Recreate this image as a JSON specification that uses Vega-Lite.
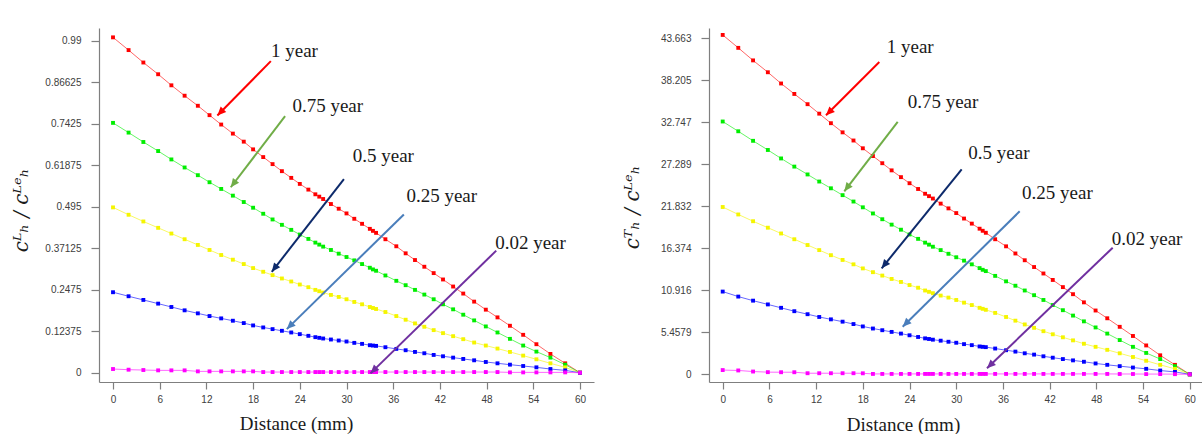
{
  "$schema": "https://vega.github.io/schema/vega-lite/v6.json",
  "background": "white",
  "padding": {"left": 11, "top": 28, "right": 0, "bottom": 0},
  "bounds": "flush",
  "spacing": 115,
  "config": {
    "view": {"stroke": null},
    "axis": {"grid": false, "domainColor": "#7f7f7f", "domainWidth": 1.2, "tickColor": "#7f7f7f", "tickWidth": 1.2, "tickSize": 7, "labelFont": "Liberation Sans", "labelFontSize": 10, "labelColor": "#404040", "titleFont": "Liberation Serif", "titleFontSize": 19, "titleColor": "#1a1a1a", "titleFontWeight": "normal"}
  },
  "datasets": {
    "L": [
      {"s":"1 year","x":0,"v":1.000},{"s":"1 year","x":2,"v":0.962},{"s":"1 year","x":3.9,"v":0.925},{"s":"1 year","x":5.8,"v":0.890},{"s":"1 year","x":7.5,"v":0.857},{"s":"1 year","x":9.2,"v":0.826},{"s":"1 year","x":10.9,"v":0.796},{"s":"1 year","x":12.4,"v":0.768},{"s":"1 year","x":13.9,"v":0.740},{"s":"1 year","x":15.4,"v":0.713},{"s":"1 year","x":16.8,"v":0.689},{"s":"1 year","x":18,"v":0.666},{"s":"1 year","x":19.3,"v":0.643},{"s":"1 year","x":20.5,"v":0.622},{"s":"1 year","x":21.7,"v":0.601},{"s":"1 year","x":22.9,"v":0.581},{"s":"1 year","x":24,"v":0.563},{"s":"1 year","x":25.1,"v":0.546},{"s":"1 year","x":26,"v":0.532},{"s":"1 year","x":26.5,"v":0.525},{"s":"1 year","x":27,"v":0.518},{"s":"1 year","x":28,"v":0.503},{"s":"1 year","x":29,"v":0.489},{"s":"1 year","x":30,"v":0.475},{"s":"1 year","x":31,"v":0.459},{"s":"1 year","x":32,"v":0.444},{"s":"1 year","x":33,"v":0.429},{"s":"1 year","x":33.4,"v":0.423},{"s":"1 year","x":33.8,"v":0.417},{"s":"1 year","x":35,"v":0.398},{"s":"1 year","x":36.4,"v":0.377},{"s":"1 year","x":37.6,"v":0.356},{"s":"1 year","x":38.8,"v":0.336},{"s":"1 year","x":40,"v":0.316},{"s":"1 year","x":41.2,"v":0.297},{"s":"1 year","x":42.4,"v":0.278},{"s":"1 year","x":43.7,"v":0.257},{"s":"1 year","x":45,"v":0.236},{"s":"1 year","x":46.4,"v":0.212},{"s":"1 year","x":47.9,"v":0.188},{"s":"1 year","x":49.4,"v":0.165},{"s":"1 year","x":51,"v":0.140},{"s":"1 year","x":52.7,"v":0.113},{"s":"1 year","x":54.4,"v":0.085},{"s":"1 year","x":56.2,"v":0.056},{"s":"1 year","x":58.1,"v":0.028},{"s":"1 year","x":60,"v":0},
      {"s":"0.75 year","x":0,"v":0.745},{"s":"0.75 year","x":2,"v":0.716},{"s":"0.75 year","x":3.9,"v":0.688},{"s":"0.75 year","x":5.8,"v":0.661},{"s":"0.75 year","x":7.5,"v":0.636},{"s":"0.75 year","x":9.2,"v":0.612},{"s":"0.75 year","x":10.9,"v":0.589},{"s":"0.75 year","x":12.4,"v":0.568},{"s":"0.75 year","x":13.9,"v":0.548},{"s":"0.75 year","x":15.4,"v":0.528},{"s":"0.75 year","x":16.8,"v":0.509},{"s":"0.75 year","x":18,"v":0.492},{"s":"0.75 year","x":19.3,"v":0.474},{"s":"0.75 year","x":20.5,"v":0.457},{"s":"0.75 year","x":21.7,"v":0.441},{"s":"0.75 year","x":22.9,"v":0.426},{"s":"0.75 year","x":24,"v":0.412},{"s":"0.75 year","x":25.1,"v":0.399},{"s":"0.75 year","x":26,"v":0.388},{"s":"0.75 year","x":26.5,"v":0.382},{"s":"0.75 year","x":27,"v":0.376},{"s":"0.75 year","x":28,"v":0.366},{"s":"0.75 year","x":29,"v":0.355},{"s":"0.75 year","x":30,"v":0.345},{"s":"0.75 year","x":31,"v":0.335},{"s":"0.75 year","x":32,"v":0.324},{"s":"0.75 year","x":33,"v":0.313},{"s":"0.75 year","x":33.4,"v":0.308},{"s":"0.75 year","x":33.8,"v":0.304},{"s":"0.75 year","x":35,"v":0.290},{"s":"0.75 year","x":36.4,"v":0.274},{"s":"0.75 year","x":37.6,"v":0.261},{"s":"0.75 year","x":38.8,"v":0.247},{"s":"0.75 year","x":40,"v":0.233},{"s":"0.75 year","x":41.2,"v":0.219},{"s":"0.75 year","x":42.4,"v":0.204},{"s":"0.75 year","x":43.7,"v":0.189},{"s":"0.75 year","x":45,"v":0.173},{"s":"0.75 year","x":46.4,"v":0.156},{"s":"0.75 year","x":47.9,"v":0.138},{"s":"0.75 year","x":49.4,"v":0.120},{"s":"0.75 year","x":51,"v":0.101},{"s":"0.75 year","x":52.7,"v":0.081},{"s":"0.75 year","x":54.4,"v":0.063},{"s":"0.75 year","x":56.2,"v":0.045},{"s":"0.75 year","x":58.1,"v":0.024},{"s":"0.75 year","x":60,"v":0},
      {"s":"0.5 year","x":0,"v":0.493},{"s":"0.5 year","x":2,"v":0.471},{"s":"0.5 year","x":3.9,"v":0.451},{"s":"0.5 year","x":5.8,"v":0.432},{"s":"0.5 year","x":7.5,"v":0.415},{"s":"0.5 year","x":9.2,"v":0.398},{"s":"0.5 year","x":10.9,"v":0.381},{"s":"0.5 year","x":12.4,"v":0.366},{"s":"0.5 year","x":13.9,"v":0.351},{"s":"0.5 year","x":15.4,"v":0.337},{"s":"0.5 year","x":16.8,"v":0.324},{"s":"0.5 year","x":18,"v":0.312},{"s":"0.5 year","x":19.3,"v":0.301},{"s":"0.5 year","x":20.5,"v":0.291},{"s":"0.5 year","x":21.7,"v":0.281},{"s":"0.5 year","x":22.9,"v":0.272},{"s":"0.5 year","x":24,"v":0.263},{"s":"0.5 year","x":25.1,"v":0.255},{"s":"0.5 year","x":26,"v":0.247},{"s":"0.5 year","x":26.5,"v":0.243},{"s":"0.5 year","x":27,"v":0.239},{"s":"0.5 year","x":28,"v":0.232},{"s":"0.5 year","x":29,"v":0.226},{"s":"0.5 year","x":30,"v":0.219},{"s":"0.5 year","x":31,"v":0.211},{"s":"0.5 year","x":32,"v":0.204},{"s":"0.5 year","x":33,"v":0.196},{"s":"0.5 year","x":33.4,"v":0.193},{"s":"0.5 year","x":33.8,"v":0.190},{"s":"0.5 year","x":35,"v":0.181},{"s":"0.5 year","x":36.4,"v":0.169},{"s":"0.5 year","x":37.6,"v":0.158},{"s":"0.5 year","x":38.8,"v":0.147},{"s":"0.5 year","x":40,"v":0.137},{"s":"0.5 year","x":41.2,"v":0.127},{"s":"0.5 year","x":42.4,"v":0.118},{"s":"0.5 year","x":43.7,"v":0.109},{"s":"0.5 year","x":45,"v":0.100},{"s":"0.5 year","x":46.4,"v":0.090},{"s":"0.5 year","x":47.9,"v":0.081},{"s":"0.5 year","x":49.4,"v":0.072},{"s":"0.5 year","x":51,"v":0.062},{"s":"0.5 year","x":52.7,"v":0.051},{"s":"0.5 year","x":54.4,"v":0.040},{"s":"0.5 year","x":56.2,"v":0.028},{"s":"0.5 year","x":58.1,"v":0.016},{"s":"0.5 year","x":60,"v":0},
      {"s":"0.25 year","x":0,"v":0.240},{"s":"0.25 year","x":2,"v":0.228},{"s":"0.25 year","x":3.9,"v":0.217},{"s":"0.25 year","x":5.8,"v":0.206},{"s":"0.25 year","x":7.5,"v":0.196},{"s":"0.25 year","x":9.2,"v":0.186},{"s":"0.25 year","x":10.9,"v":0.177},{"s":"0.25 year","x":12.4,"v":0.169},{"s":"0.25 year","x":13.9,"v":0.162},{"s":"0.25 year","x":15.4,"v":0.155},{"s":"0.25 year","x":16.8,"v":0.148},{"s":"0.25 year","x":18,"v":0.141},{"s":"0.25 year","x":19.3,"v":0.135},{"s":"0.25 year","x":20.5,"v":0.130},{"s":"0.25 year","x":21.7,"v":0.125},{"s":"0.25 year","x":22.9,"v":0.120},{"s":"0.25 year","x":24,"v":0.115},{"s":"0.25 year","x":25.1,"v":0.110},{"s":"0.25 year","x":26,"v":0.106},{"s":"0.25 year","x":26.5,"v":0.104},{"s":"0.25 year","x":27,"v":0.102},{"s":"0.25 year","x":28,"v":0.099},{"s":"0.25 year","x":29,"v":0.096},{"s":"0.25 year","x":30,"v":0.093},{"s":"0.25 year","x":31,"v":0.089},{"s":"0.25 year","x":32,"v":0.086},{"s":"0.25 year","x":33,"v":0.082},{"s":"0.25 year","x":33.4,"v":0.081},{"s":"0.25 year","x":33.8,"v":0.080},{"s":"0.25 year","x":35,"v":0.076},{"s":"0.25 year","x":36.4,"v":0.071},{"s":"0.25 year","x":37.6,"v":0.067},{"s":"0.25 year","x":38.8,"v":0.062},{"s":"0.25 year","x":40,"v":0.058},{"s":"0.25 year","x":41.2,"v":0.053},{"s":"0.25 year","x":42.4,"v":0.049},{"s":"0.25 year","x":43.7,"v":0.045},{"s":"0.25 year","x":45,"v":0.041},{"s":"0.25 year","x":46.4,"v":0.037},{"s":"0.25 year","x":47.9,"v":0.032},{"s":"0.25 year","x":49.4,"v":0.028},{"s":"0.25 year","x":51,"v":0.024},{"s":"0.25 year","x":52.7,"v":0.020},{"s":"0.25 year","x":54.4,"v":0.016},{"s":"0.25 year","x":56.2,"v":0.011},{"s":"0.25 year","x":58.1,"v":0.007},{"s":"0.25 year","x":60,"v":0},
      {"s":"0.02 year","x":0,"v":0.011},{"s":"0.02 year","x":2,"v":0.009},{"s":"0.02 year","x":3.9,"v":0.008},{"s":"0.02 year","x":5.8,"v":0.007},{"s":"0.02 year","x":7.5,"v":0.007},{"s":"0.02 year","x":9.2,"v":0.007},{"s":"0.02 year","x":10.9,"v":0.004},{"s":"0.02 year","x":12.4,"v":0.004},{"s":"0.02 year","x":13.9,"v":0.004},{"s":"0.02 year","x":15.4,"v":0.004},{"s":"0.02 year","x":16.8,"v":0.004},{"s":"0.02 year","x":18,"v":0.004},{"s":"0.02 year","x":19.3,"v":0.002},{"s":"0.02 year","x":20.5,"v":0.002},{"s":"0.02 year","x":21.7,"v":0.002},{"s":"0.02 year","x":22.9,"v":0.002},{"s":"0.02 year","x":24,"v":0.002},{"s":"0.02 year","x":25.1,"v":0.002},{"s":"0.02 year","x":26,"v":0.002},{"s":"0.02 year","x":26.5,"v":0.002},{"s":"0.02 year","x":27,"v":0.002},{"s":"0.02 year","x":28,"v":0.002},{"s":"0.02 year","x":29,"v":0.002},{"s":"0.02 year","x":30,"v":0.002},{"s":"0.02 year","x":31,"v":0.002},{"s":"0.02 year","x":32,"v":0.002},{"s":"0.02 year","x":33,"v":0.002},{"s":"0.02 year","x":33.4,"v":0.002},{"s":"0.02 year","x":33.8,"v":0.002},{"s":"0.02 year","x":35,"v":0.002},{"s":"0.02 year","x":36.4,"v":0.002},{"s":"0.02 year","x":37.6,"v":0.002},{"s":"0.02 year","x":38.8,"v":0.002},{"s":"0.02 year","x":40,"v":0.002},{"s":"0.02 year","x":41.2,"v":0.002},{"s":"0.02 year","x":42.4,"v":0.002},{"s":"0.02 year","x":43.7,"v":0.002},{"s":"0.02 year","x":45,"v":0.002},{"s":"0.02 year","x":46.4,"v":0.002},{"s":"0.02 year","x":47.9,"v":0.002},{"s":"0.02 year","x":49.4,"v":0.002},{"s":"0.02 year","x":51,"v":0.001},{"s":"0.02 year","x":52.7,"v":0.001},{"s":"0.02 year","x":54.4,"v":0.001},{"s":"0.02 year","x":56.2,"v":0.001},{"s":"0.02 year","x":58.1,"v":0.001},{"s":"0.02 year","x":60,"v":0}
    ],
    "R": [
      {"s":"1 year","x":0,"v":44.10},{"s":"1 year","x":2,"v":42.42},{"s":"1 year","x":3.9,"v":40.79},{"s":"1 year","x":5.8,"v":39.25},{"s":"1 year","x":7.5,"v":37.79},{"s":"1 year","x":9.2,"v":36.43},{"s":"1 year","x":10.9,"v":35.10},{"s":"1 year","x":12.4,"v":33.87},{"s":"1 year","x":13.9,"v":32.63},{"s":"1 year","x":15.4,"v":31.44},{"s":"1 year","x":16.8,"v":30.38},{"s":"1 year","x":18,"v":29.37},{"s":"1 year","x":19.3,"v":28.36},{"s":"1 year","x":20.5,"v":27.43},{"s":"1 year","x":21.7,"v":26.50},{"s":"1 year","x":22.9,"v":25.62},{"s":"1 year","x":24,"v":24.83},{"s":"1 year","x":25.1,"v":24.08},{"s":"1 year","x":26,"v":23.46},{"s":"1 year","x":26.5,"v":23.15},{"s":"1 year","x":27,"v":22.84},{"s":"1 year","x":28,"v":22.18},{"s":"1 year","x":29,"v":21.56},{"s":"1 year","x":30,"v":20.95},{"s":"1 year","x":31,"v":20.24},{"s":"1 year","x":32,"v":19.58},{"s":"1 year","x":33,"v":18.92},{"s":"1 year","x":33.4,"v":18.65},{"s":"1 year","x":33.8,"v":18.39},{"s":"1 year","x":35,"v":17.55},{"s":"1 year","x":36.4,"v":16.63},{"s":"1 year","x":37.6,"v":15.70},{"s":"1 year","x":38.8,"v":14.82},{"s":"1 year","x":40,"v":13.94},{"s":"1 year","x":41.2,"v":13.10},{"s":"1 year","x":42.4,"v":12.26},{"s":"1 year","x":43.7,"v":11.33},{"s":"1 year","x":45,"v":10.41},{"s":"1 year","x":46.4,"v":9.35},{"s":"1 year","x":47.9,"v":8.29},{"s":"1 year","x":49.4,"v":7.28},{"s":"1 year","x":51,"v":6.17},{"s":"1 year","x":52.7,"v":4.98},{"s":"1 year","x":54.4,"v":3.75},{"s":"1 year","x":56.2,"v":2.47},{"s":"1 year","x":58.1,"v":1.23},{"s":"1 year","x":60,"v":0},
      {"s":"0.75 year","x":0,"v":32.85},{"s":"0.75 year","x":2,"v":31.58},{"s":"0.75 year","x":3.9,"v":30.34},{"s":"0.75 year","x":5.8,"v":29.15},{"s":"0.75 year","x":7.5,"v":28.05},{"s":"0.75 year","x":9.2,"v":26.99},{"s":"0.75 year","x":10.9,"v":25.97},{"s":"0.75 year","x":12.4,"v":25.05},{"s":"0.75 year","x":13.9,"v":24.17},{"s":"0.75 year","x":15.4,"v":23.28},{"s":"0.75 year","x":16.8,"v":22.45},{"s":"0.75 year","x":18,"v":21.70},{"s":"0.75 year","x":19.3,"v":20.90},{"s":"0.75 year","x":20.5,"v":20.15},{"s":"0.75 year","x":21.7,"v":19.45},{"s":"0.75 year","x":22.9,"v":18.79},{"s":"0.75 year","x":24,"v":18.17},{"s":"0.75 year","x":25.1,"v":17.60},{"s":"0.75 year","x":26,"v":17.11},{"s":"0.75 year","x":26.5,"v":16.85},{"s":"0.75 year","x":27,"v":16.58},{"s":"0.75 year","x":28,"v":16.14},{"s":"0.75 year","x":29,"v":15.66},{"s":"0.75 year","x":30,"v":15.21},{"s":"0.75 year","x":31,"v":14.77},{"s":"0.75 year","x":32,"v":14.29},{"s":"0.75 year","x":33,"v":13.80},{"s":"0.75 year","x":33.4,"v":13.58},{"s":"0.75 year","x":33.8,"v":13.41},{"s":"0.75 year","x":35,"v":12.79},{"s":"0.75 year","x":36.4,"v":12.08},{"s":"0.75 year","x":37.6,"v":11.51},{"s":"0.75 year","x":38.8,"v":10.89},{"s":"0.75 year","x":40,"v":10.28},{"s":"0.75 year","x":41.2,"v":9.66},{"s":"0.75 year","x":42.4,"v":9.00},{"s":"0.75 year","x":43.7,"v":8.33},{"s":"0.75 year","x":45,"v":7.63},{"s":"0.75 year","x":46.4,"v":6.88},{"s":"0.75 year","x":47.9,"v":6.09},{"s":"0.75 year","x":49.4,"v":5.29},{"s":"0.75 year","x":51,"v":4.45},{"s":"0.75 year","x":52.7,"v":3.57},{"s":"0.75 year","x":54.4,"v":2.78},{"s":"0.75 year","x":56.2,"v":1.98},{"s":"0.75 year","x":58.1,"v":1.06},{"s":"0.75 year","x":60,"v":0},
      {"s":"0.5 year","x":0,"v":21.74},{"s":"0.5 year","x":2,"v":20.77},{"s":"0.5 year","x":3.9,"v":19.89},{"s":"0.5 year","x":5.8,"v":19.05},{"s":"0.5 year","x":7.5,"v":18.30},{"s":"0.5 year","x":9.2,"v":17.55},{"s":"0.5 year","x":10.9,"v":16.80},{"s":"0.5 year","x":12.4,"v":16.14},{"s":"0.5 year","x":13.9,"v":15.48},{"s":"0.5 year","x":15.4,"v":14.86},{"s":"0.5 year","x":16.8,"v":14.29},{"s":"0.5 year","x":18,"v":13.76},{"s":"0.5 year","x":19.3,"v":13.27},{"s":"0.5 year","x":20.5,"v":12.83},{"s":"0.5 year","x":21.7,"v":12.39},{"s":"0.5 year","x":22.9,"v":12.00},{"s":"0.5 year","x":24,"v":11.60},{"s":"0.5 year","x":25.1,"v":11.25},{"s":"0.5 year","x":26,"v":10.89},{"s":"0.5 year","x":26.5,"v":10.72},{"s":"0.5 year","x":27,"v":10.54},{"s":"0.5 year","x":28,"v":10.23},{"s":"0.5 year","x":29,"v":9.97},{"s":"0.5 year","x":30,"v":9.66},{"s":"0.5 year","x":31,"v":9.31},{"s":"0.5 year","x":32,"v":9.00},{"s":"0.5 year","x":33,"v":8.64},{"s":"0.5 year","x":33.4,"v":8.51},{"s":"0.5 year","x":33.8,"v":8.38},{"s":"0.5 year","x":35,"v":7.98},{"s":"0.5 year","x":36.4,"v":7.45},{"s":"0.5 year","x":37.6,"v":6.97},{"s":"0.5 year","x":38.8,"v":6.48},{"s":"0.5 year","x":40,"v":6.04},{"s":"0.5 year","x":41.2,"v":5.60},{"s":"0.5 year","x":42.4,"v":5.20},{"s":"0.5 year","x":43.7,"v":4.81},{"s":"0.5 year","x":45,"v":4.41},{"s":"0.5 year","x":46.4,"v":3.97},{"s":"0.5 year","x":47.9,"v":3.57},{"s":"0.5 year","x":49.4,"v":3.18},{"s":"0.5 year","x":51,"v":2.73},{"s":"0.5 year","x":52.7,"v":2.25},{"s":"0.5 year","x":54.4,"v":1.76},{"s":"0.5 year","x":56.2,"v":1.23},{"s":"0.5 year","x":58.1,"v":0.71},{"s":"0.5 year","x":60,"v":0},
      {"s":"0.25 year","x":0,"v":10.75},{"s":"0.25 year","x":2,"v":10.10},{"s":"0.25 year","x":3.9,"v":9.57},{"s":"0.25 year","x":5.8,"v":9.08},{"s":"0.25 year","x":7.5,"v":8.64},{"s":"0.25 year","x":9.2,"v":8.20},{"s":"0.25 year","x":10.9,"v":7.81},{"s":"0.25 year","x":12.4,"v":7.45},{"s":"0.25 year","x":13.9,"v":7.14},{"s":"0.25 year","x":15.4,"v":6.84},{"s":"0.25 year","x":16.8,"v":6.53},{"s":"0.25 year","x":18,"v":6.22},{"s":"0.25 year","x":19.3,"v":5.95},{"s":"0.25 year","x":20.5,"v":5.73},{"s":"0.25 year","x":21.7,"v":5.51},{"s":"0.25 year","x":22.9,"v":5.29},{"s":"0.25 year","x":24,"v":5.07},{"s":"0.25 year","x":25.1,"v":4.85},{"s":"0.25 year","x":26,"v":4.67},{"s":"0.25 year","x":26.5,"v":4.59},{"s":"0.25 year","x":27,"v":4.50},{"s":"0.25 year","x":28,"v":4.37},{"s":"0.25 year","x":29,"v":4.23},{"s":"0.25 year","x":30,"v":4.10},{"s":"0.25 year","x":31,"v":3.92},{"s":"0.25 year","x":32,"v":3.79},{"s":"0.25 year","x":33,"v":3.62},{"s":"0.25 year","x":33.4,"v":3.57},{"s":"0.25 year","x":33.8,"v":3.53},{"s":"0.25 year","x":35,"v":3.35},{"s":"0.25 year","x":36.4,"v":3.13},{"s":"0.25 year","x":37.6,"v":2.95},{"s":"0.25 year","x":38.8,"v":2.73},{"s":"0.25 year","x":40,"v":2.56},{"s":"0.25 year","x":41.2,"v":2.34},{"s":"0.25 year","x":42.4,"v":2.16},{"s":"0.25 year","x":43.7,"v":1.98},{"s":"0.25 year","x":45,"v":1.81},{"s":"0.25 year","x":46.4,"v":1.63},{"s":"0.25 year","x":47.9,"v":1.41},{"s":"0.25 year","x":49.4,"v":1.23},{"s":"0.25 year","x":51,"v":1.06},{"s":"0.25 year","x":52.7,"v":0.88},{"s":"0.25 year","x":54.4,"v":0.71},{"s":"0.25 year","x":56.2,"v":0.49},{"s":"0.25 year","x":58.1,"v":0.31},{"s":"0.25 year","x":60,"v":0},
      {"s":"0.02 year","x":0,"v":0.55},{"s":"0.02 year","x":2,"v":0.50},{"s":"0.02 year","x":3.9,"v":0.36},{"s":"0.02 year","x":5.8,"v":0.28},{"s":"0.02 year","x":7.5,"v":0.27},{"s":"0.02 year","x":9.2,"v":0.27},{"s":"0.02 year","x":10.9,"v":0.14},{"s":"0.02 year","x":12.4,"v":0.14},{"s":"0.02 year","x":13.9,"v":0.14},{"s":"0.02 year","x":15.4,"v":0.14},{"s":"0.02 year","x":16.8,"v":0.14},{"s":"0.02 year","x":18,"v":0.13},{"s":"0.02 year","x":19.3,"v":0.05},{"s":"0.02 year","x":20.5,"v":0.05},{"s":"0.02 year","x":21.7,"v":0.05},{"s":"0.02 year","x":22.9,"v":0.05},{"s":"0.02 year","x":24,"v":0.05},{"s":"0.02 year","x":25.1,"v":0.05},{"s":"0.02 year","x":26,"v":0.05},{"s":"0.02 year","x":26.5,"v":0.05},{"s":"0.02 year","x":27,"v":0.05},{"s":"0.02 year","x":28,"v":0.05},{"s":"0.02 year","x":29,"v":0.05},{"s":"0.02 year","x":30,"v":0.05},{"s":"0.02 year","x":31,"v":0.05},{"s":"0.02 year","x":32,"v":0.05},{"s":"0.02 year","x":33,"v":0.05},{"s":"0.02 year","x":33.4,"v":0.05},{"s":"0.02 year","x":33.8,"v":0.05},{"s":"0.02 year","x":35,"v":0.05},{"s":"0.02 year","x":36.4,"v":0.05},{"s":"0.02 year","x":37.6,"v":0.05},{"s":"0.02 year","x":38.8,"v":0.05},{"s":"0.02 year","x":40,"v":0.05},{"s":"0.02 year","x":41.2,"v":0.05},{"s":"0.02 year","x":42.4,"v":0.05},{"s":"0.02 year","x":43.7,"v":0.05},{"s":"0.02 year","x":45,"v":0.05},{"s":"0.02 year","x":46.4,"v":0.05},{"s":"0.02 year","x":47.9,"v":0.05},{"s":"0.02 year","x":49.4,"v":0.05},{"s":"0.02 year","x":51,"v":0.04},{"s":"0.02 year","x":52.7,"v":0.04},{"s":"0.02 year","x":54.4,"v":0.03},{"s":"0.02 year","x":56.2,"v":0.03},{"s":"0.02 year","x":58.1,"v":0.02},{"s":"0.02 year","x":60,"v":0}
    ],
    "AL": [
      {"lab":"1 year","x1":20.28,"y1":0.929,"x2":13.41,"y2":0.767,"tx":20.3,"ty":0.960},
      {"lab":"0.75 year","x1":22.11,"y1":0.765,"x2":15.13,"y2":0.553,"tx":23.05,"ty":0.794},
      {"lab":"0.5 year","x1":29.67,"y1":0.577,"x2":20.40,"y2":0.301,"tx":30.8,"ty":0.645},
      {"lab":"0.25 year","x1":37.37,"y1":0.472,"x2":22.33,"y2":0.130,"tx":37.7,"ty":0.526},
      {"lab":"0.02 year","x1":49.24,"y1":0.364,"x2":33.08,"y2":-0.002,"tx":49.1,"ty":0.388}
    ],
    "AR": [
      {"lab":"1 year","x1":20.12,"y1":40.58,"x2":13.27,"y2":33.66,"tx":21.07,"ty":42.50},
      {"lab":"0.75 year","x1":22.48,"y1":32.79,"x2":15.62,"y2":23.78,"tx":23.76,"ty":35.39},
      {"lab":"0.5 year","x1":30.70,"y1":26.64,"x2":20.42,"y2":13.78,"tx":31.55,"ty":28.76},
      {"lab":"0.25 year","x1":38.15,"y1":21.18,"x2":23.12,"y2":6.19,"tx":38.45,"ty":23.56},
      {"lab":"0.02 year","x1":50.10,"y1":16.45,"x2":33.95,"y2":0.78,"tx":49.97,"ty":17.54}
    ]
  },
  "hconcat": [
    {
      "width": 495,
      "height": 354,
      "resolve": {"scale": {"color": "independent"}},
      "layer": [
        {
          "data": {"name": "L"},
          "mark": {"type": "line", "strokeWidth": 1, "opacity": 0.6},
          "encoding": {
            "x": {"field": "x", "type": "quantitative", "scale": {"domain": [-1.8, 61.8], "nice": false, "zero": false}, "axis": {"values": [0,6,12,18,24,30,36,42,48,54,60], "format": "d", "labelPadding": 5, "title": "Distance (mm)", "titleX": 197, "titleY": 47, "titleBaseline": "alphabetic", "titleAlign": "center", "titleAnchor": null}},
            "y": {"field": "v", "type": "quantitative", "scale": {"domain": [-0.0277, 1.0279], "nice": false, "zero": false}, "axis": {"values": [0,0.12375,0.2475,0.37125,0.495,0.61875,0.7425,0.86625,0.99], "labelExpr": "'' + datum.value", "tickSize": 8, "labelPadding": 10, "title": "cᴸₕ / cᴸᵉₕ", "titleFont": "DejaVu Serif", "titleFontStyle": "italic", "titleFontSize": 20, "titleX": -78, "titleY": 182, "titleAngle": 270, "titleAlign": "center", "titleBaseline": "middle"}},
            "color": {"field": "s", "type": "nominal", "scale": {"domain": ["1 year","0.75 year","0.5 year","0.25 year","0.02 year"], "range": ["#ff0000","#00ee00","#f5f500","#0000ff","#ff00ff"]}, "legend": null}
          }
        },
        {
          "data": {"name": "L"},
          "mark": {"type": "point", "shape": "square", "filled": true, "size": 15, "opacity": 1},
          "encoding": {
            "x": {"field": "x", "type": "quantitative", "scale": {"domain": [-1.8, 61.8], "nice": false, "zero": false}},
            "y": {"field": "v", "type": "quantitative", "scale": {"domain": [-0.0277, 1.0279], "nice": false, "zero": false}},
            "color": {"field": "s", "type": "nominal", "scale": {"domain": ["1 year","0.75 year","0.5 year","0.25 year","0.02 year"], "range": ["#ff0000","#00ee00","#f5f500","#0000ff","#ff00ff"]}, "legend": null}
          }
        },
        {
          "data": {"name": "AL"},
          "mark": {"type": "rule", "strokeWidth": 2},
          "encoding": {
            "x": {"field": "x1", "type": "quantitative", "scale": {"domain": [-1.8, 61.8], "nice": false, "zero": false}},
            "y": {"field": "y1", "type": "quantitative", "scale": {"domain": [-0.0277, 1.0279], "nice": false, "zero": false}},
            "x2": {"field": "x2"},
            "y2": {"field": "y2"},
            "color": {"field": "lab", "type": "nominal", "scale": {"domain": ["1 year","0.75 year","0.5 year","0.25 year","0.02 year"], "range": ["#ff0000","#70ad47","#0d2a6b","#4a7ebb","#7030a0"]}, "legend": null}
          }
        },
        {
          "data": {"name": "AL"},
          "transform": [{"calculate": "atan2((datum.x2 - datum.x1) * 7.783, (datum.y2 - datum.y1) * 335.35) * 180 / PI", "as": "ang"}],
          "mark": {"type": "point", "shape": "M0,0L-0.45,1L0.45,1Z", "filled": true, "size": 300, "opacity": 1},
          "encoding": {
            "x": {"field": "x2", "type": "quantitative", "scale": {"domain": [-1.8, 61.8], "nice": false, "zero": false}},
            "y": {"field": "y2", "type": "quantitative", "scale": {"domain": [-0.0277, 1.0279], "nice": false, "zero": false}},
            "angle": {"field": "ang", "type": "quantitative", "scale": null},
            "color": {"field": "lab", "type": "nominal", "scale": {"domain": ["1 year","0.75 year","0.5 year","0.25 year","0.02 year"], "range": ["#ff0000","#70ad47","#0d2a6b","#4a7ebb","#7030a0"]}, "legend": null}
          }
        },
        {
          "data": {"name": "AL"},
          "mark": {"type": "text", "align": "left", "baseline": "middle", "font": "Liberation Serif", "fontSize": 19, "color": "#1a1a1a"},
          "encoding": {
            "x": {"field": "tx", "type": "quantitative", "scale": {"domain": [-1.8, 61.8], "nice": false, "zero": false}},
            "y": {"field": "ty", "type": "quantitative", "scale": {"domain": [-0.0277, 1.0279], "nice": false, "zero": false}},
            "text": {"field": "lab"}
          }
        }
      ]
    },
    {
      "width": 493,
      "height": 354,
      "resolve": {"scale": {"color": "independent"}},
      "layer": [
        {
          "data": {"name": "R"},
          "mark": {"type": "line", "strokeWidth": 1, "opacity": 0.6},
          "encoding": {
            "x": {"field": "x", "type": "quantitative", "scale": {"domain": [-1.76, 61.57], "nice": false, "zero": false}, "axis": {"values": [0,6,12,18,24,30,36,42,48,54,60], "format": "d", "labelPadding": 5, "title": "Distance (mm)", "titleX": 194, "titleY": 48, "titleBaseline": "alphabetic", "titleAlign": "center", "titleAnchor": null}},
            "y": {"field": "v", "type": "quantitative", "scale": {"domain": [-1.0, 45.0], "nice": false, "zero": false}, "axis": {"values": [0,5.4579,10.916,16.374,21.832,27.289,32.747,38.205,43.663], "labelExpr": "'' + datum.value", "tickSize": 8, "labelPadding": 10, "title": "cᵀₕ / cᴸᵉₕ", "titleFont": "DejaVu Serif", "titleFontStyle": "italic", "titleFontSize": 20, "titleX": -77, "titleY": 179, "titleAngle": 270, "titleAlign": "center", "titleBaseline": "middle"}},
            "color": {"field": "s", "type": "nominal", "scale": {"domain": ["1 year","0.75 year","0.5 year","0.25 year","0.02 year"], "range": ["#ff0000","#00ee00","#f5f500","#0000ff","#ff00ff"]}, "legend": null}
          }
        },
        {
          "data": {"name": "R"},
          "mark": {"type": "point", "shape": "square", "filled": true, "size": 15, "opacity": 1},
          "encoding": {
            "x": {"field": "x", "type": "quantitative", "scale": {"domain": [-1.76, 61.57], "nice": false, "zero": false}},
            "y": {"field": "v", "type": "quantitative", "scale": {"domain": [-1.0, 45.0], "nice": false, "zero": false}},
            "color": {"field": "s", "type": "nominal", "scale": {"domain": ["1 year","0.75 year","0.5 year","0.25 year","0.02 year"], "range": ["#ff0000","#00ee00","#f5f500","#0000ff","#ff00ff"]}, "legend": null}
          }
        },
        {
          "data": {"name": "AR"},
          "mark": {"type": "rule", "strokeWidth": 2},
          "encoding": {
            "x": {"field": "x1", "type": "quantitative", "scale": {"domain": [-1.76, 61.57], "nice": false, "zero": false}},
            "y": {"field": "y1", "type": "quantitative", "scale": {"domain": [-1.0, 45.0], "nice": false, "zero": false}},
            "x2": {"field": "x2"},
            "y2": {"field": "y2"},
            "color": {"field": "lab", "type": "nominal", "scale": {"domain": ["1 year","0.75 year","0.5 year","0.25 year","0.02 year"], "range": ["#ff0000","#70ad47","#0d2a6b","#4a7ebb","#7030a0"]}, "legend": null}
          }
        },
        {
          "data": {"name": "AR"},
          "transform": [{"calculate": "atan2((datum.x2 - datum.x1) * 7.785, (datum.y2 - datum.y1) * 7.696) * 180 / PI", "as": "ang"}],
          "mark": {"type": "point", "shape": "M0,0L-0.45,1L0.45,1Z", "filled": true, "size": 300, "opacity": 1},
          "encoding": {
            "x": {"field": "x2", "type": "quantitative", "scale": {"domain": [-1.76, 61.57], "nice": false, "zero": false}},
            "y": {"field": "y2", "type": "quantitative", "scale": {"domain": [-1.0, 45.0], "nice": false, "zero": false}},
            "angle": {"field": "ang", "type": "quantitative", "scale": null},
            "color": {"field": "lab", "type": "nominal", "scale": {"domain": ["1 year","0.75 year","0.5 year","0.25 year","0.02 year"], "range": ["#ff0000","#70ad47","#0d2a6b","#4a7ebb","#7030a0"]}, "legend": null}
          }
        },
        {
          "data": {"name": "AR"},
          "mark": {"type": "text", "align": "left", "baseline": "middle", "font": "Liberation Serif", "fontSize": 19, "color": "#1a1a1a"},
          "encoding": {
            "x": {"field": "tx", "type": "quantitative", "scale": {"domain": [-1.76, 61.57], "nice": false, "zero": false}},
            "y": {"field": "ty", "type": "quantitative", "scale": {"domain": [-1.0, 45.0], "nice": false, "zero": false}},
            "text": {"field": "lab"}
          }
        }
      ]
    }
  ]
}
